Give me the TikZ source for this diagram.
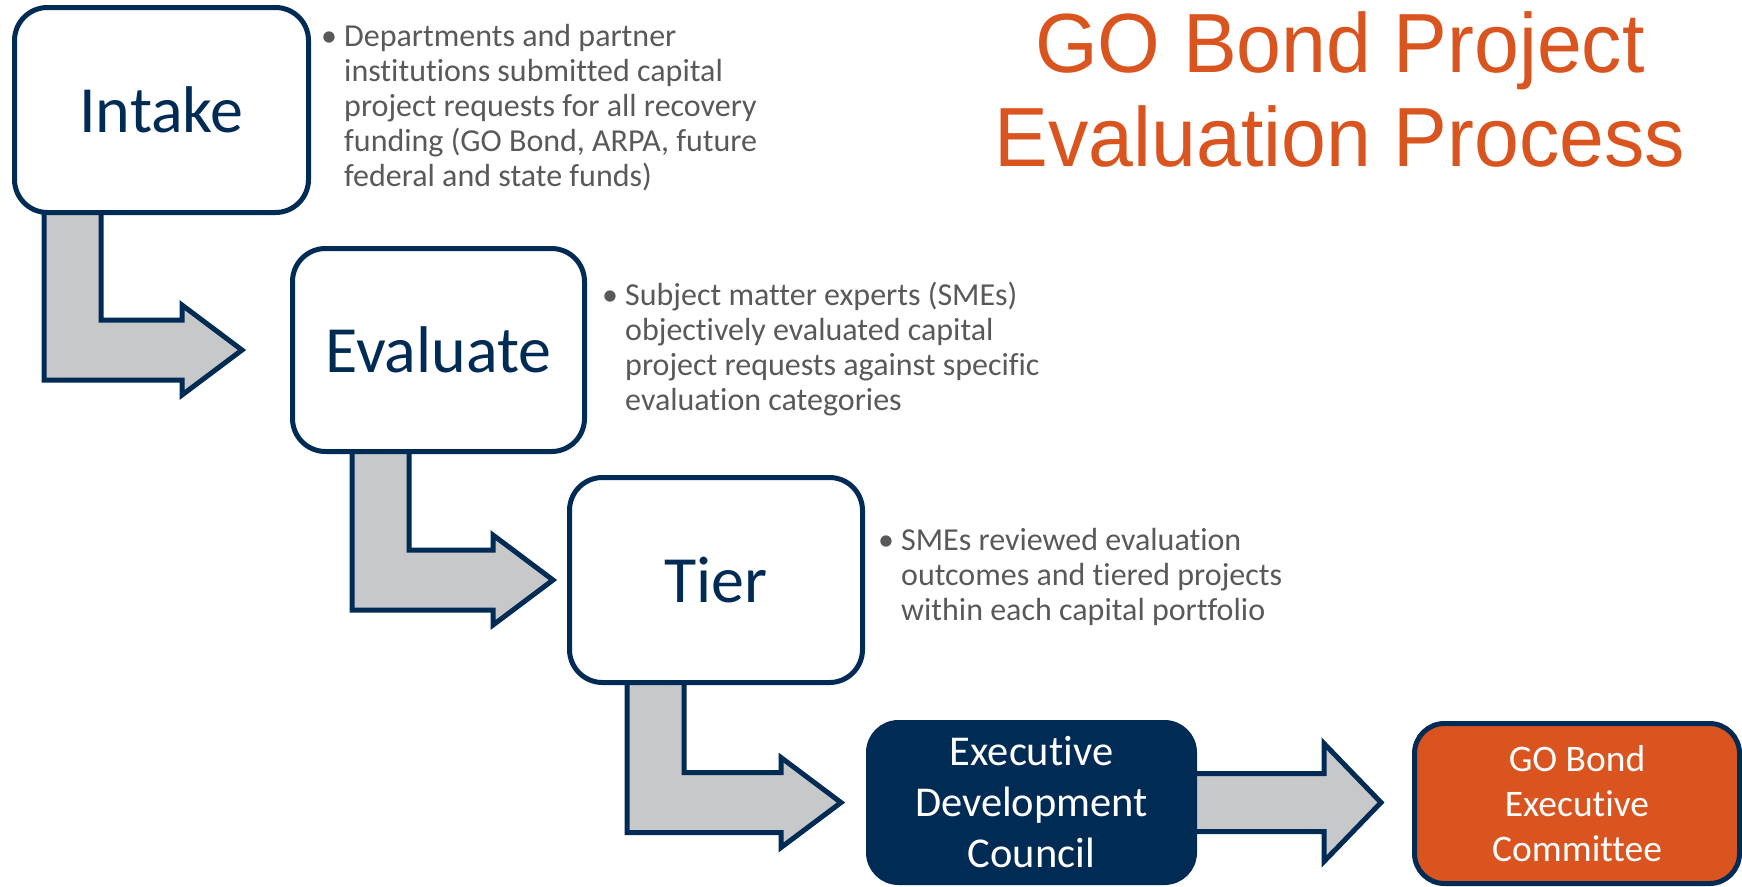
\documentclass[tikz,border=0pt]{standalone}
\usepackage{fontspec}
\setmainfont{Carlito}[Ligatures=CommonOff]
\newfontfamily\titlefont[FakeStretch=0.96]{Liberation Sans}
\usetikzlibrary{calc,backgrounds}
\definecolor{navy}{HTML}{002B55}
\definecolor{rust}{HTML}{D9541E}
\definecolor{txtgray}{HTML}{595959}
\definecolor{arrowgray}{HTML}{C7C8CA}
\tikzset{
  stepbox/.style={draw=navy, line width=5pt, fill=white, rounded corners=33pt,
    minimum width=294pt, minimum height=205pt, text=navy, font=\fontsize{66}{79}\selectfont},
  councilbox/.style={draw=navy, line width=5pt, fill=navy, rounded corners=30pt,
    minimum width=326pt, minimum height=160pt, text=white, align=center,
    font=\fontsize{42.5}{51}\selectfont},
  committeebox/.style={councilbox, fill=rust, font=\fontsize{37.5}{45}\selectfont},
  notes/.style={anchor=base west, inner sep=0pt, text=txtgray, font=\fontsize{32}{35}\selectfont},
  heading/.style={inner sep=0pt, text=rust, align=center, font=\titlefont\fontsize{84}{94}\selectfont},
  blockarrow/.style={draw=navy, line width=5pt, fill=arrowgray, line join=miter}
}
% bent block arrow: from node, shaft offset, to node, gap before tip
\newcommand{\bentarrow}[4]{%
  \draw[blockarrow] let \p1=(#1.south west), \p2=(#3.west) in
    (\x1+#2,\y1+8pt) -- (\x1+#2,\y2-30pt) -- (\x2-#4-60pt,\y2-30pt)
    -- (\x2-#4-60pt,\y2-45pt) -- (\x2-#4,\y2) -- (\x2-#4-60pt,\y2+45pt)
    -- (\x2-#4-60pt,\y2+30pt) -- (\x1+#2+57pt,\y2+30pt) -- (\x1+#2+57pt,\y1+8pt) -- cycle;}
\begin{document}
\begin{tikzpicture}[x=1pt,y=-1pt]
	\useasboundingbox (0,0) rectangle (1742,886);

	\node[stepbox] (intake) at (161.5,110) {Intake};
	\node[stepbox, minimum width=292pt, minimum height=203pt] (evaluate) at (438.5,350) {Evaluate};
	\node[stepbox, minimum width=293pt] (tier) at (716,580) {Tier};
	\node[councilbox] (council) at (1031.5,802.5) {Executive\\Development\\Council};
	\node[committeebox, minimum width=325pt] (committee) at (1577,803.5) {GO Bond\\Executive\\Committee};

	\node[notes] (intakenote) at (321,46.7) {\begin{tabular}[t]{@{}p{23pt}@{}l@{}}
		\textbullet & Departments and partner\\
		& institutions submitted capital\\
		& project requests for all recovery\\
		& funding (GO Bond, ARPA, future\\
		& federal and state funds)
	\end{tabular}};
	\node[notes] (evaluatenote) at (602,305) {\begin{tabular}[t]{@{}p{23pt}@{}l@{}}
		\textbullet & Subject matter experts (SMEs)\\
		& objectively evaluated capital\\
		& project requests against specific\\
		& evaluation categories
	\end{tabular}};
	\node[notes] (tiernote) at (878,550) {\begin{tabular}[t]{@{}p{23pt}@{}l@{}}
		\textbullet & SMEs reviewed evaluation\\
		& outcomes and tiered projects\\
		& within each capital portfolio
	\end{tabular}};

	\node[heading] (title) at (1340,89) {GO Bond Project\\Evaluation Process};

	\begin{scope}[on background layer]
		\bentarrow{intake}{32pt}{evaluate}{48pt}
		\bentarrow{evaluate}{62pt}{tier}{14pt}
		\bentarrow{tier}{60pt}{council}{25pt}
		\draw[blockarrow] let \p1=(council.east), \p2=(committee.west) in
			(\x1-8pt,\y1+29pt) -- (\x2-88pt,\y1+29pt) -- (\x2-88pt,\y1+59pt) -- (\x2-31pt,\y1)
			-- (\x2-88pt,\y1-59pt) -- (\x2-88pt,\y1-29pt) -- (\x1-8pt,\y1-29pt) -- cycle;
	\end{scope}
\end{tikzpicture}
\end{document}
